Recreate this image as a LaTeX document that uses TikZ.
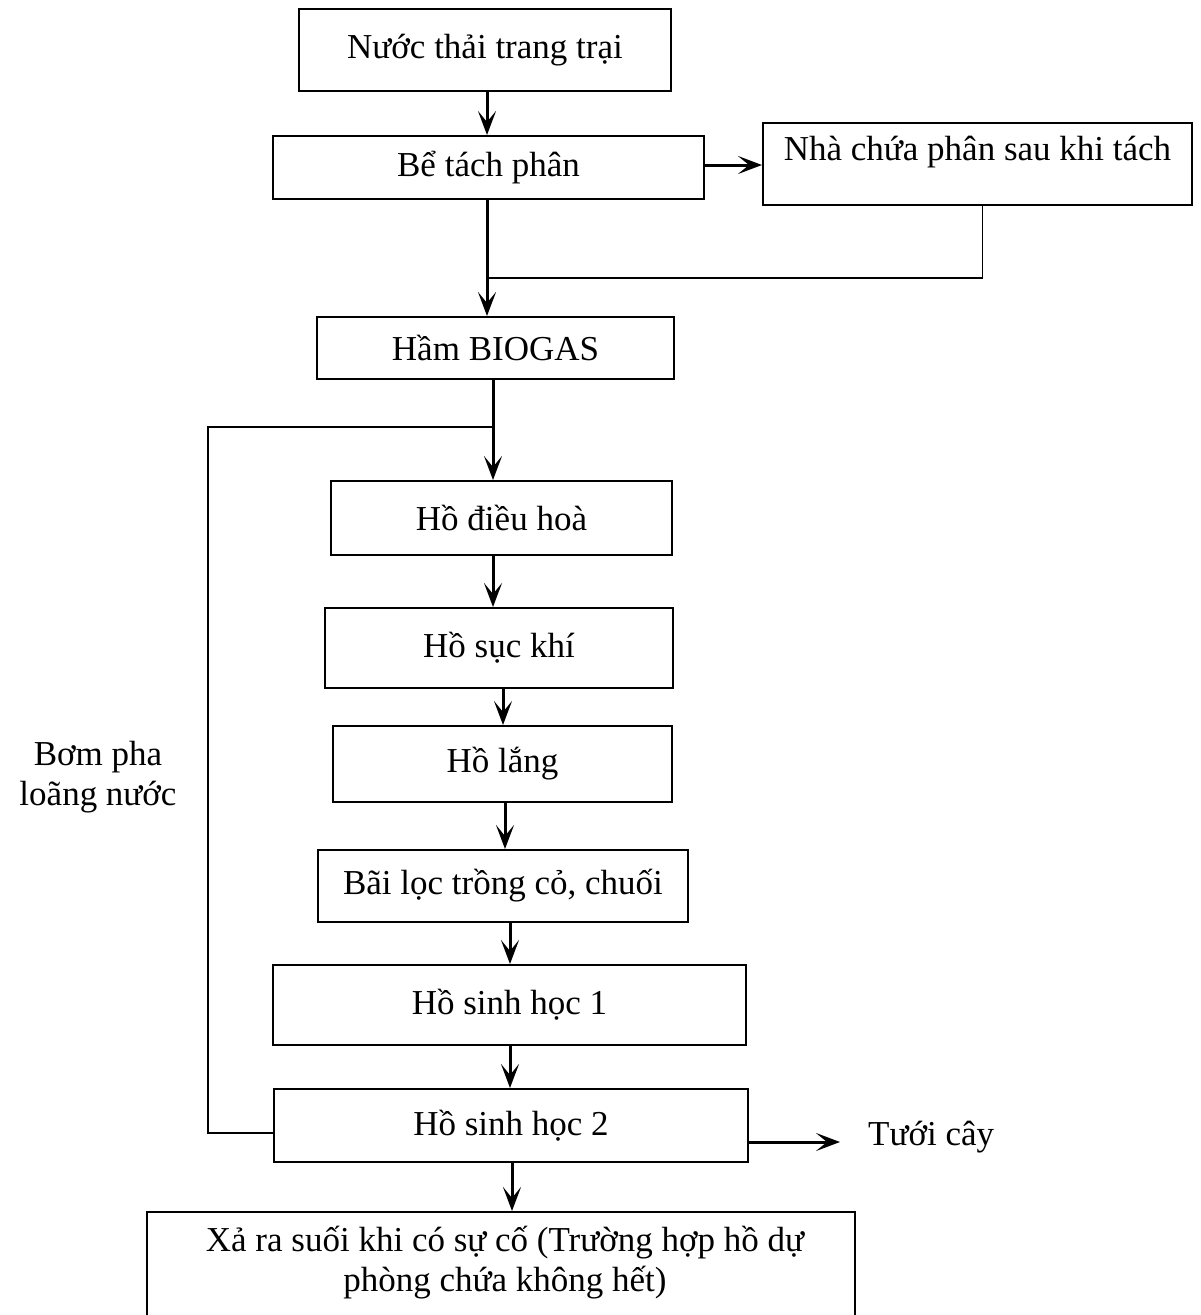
\documentclass[tikz,border=0pt]{standalone}
\usepackage{fontspec}
\setmainfont{Liberation Serif}
\usetikzlibrary{arrows.meta}
\begin{document}
\begin{tikzpicture}[x=1pt,y=-1pt,
  box/.style={draw,line width=2pt,inner sep=0pt,align=center,font=\fontsize{35}{40}\selectfont},
  txt/.style={inner sep=0pt,align=center,font=\fontsize{35}{40}\selectfont},
  arr/.style={line width=3pt,-{Stealth[length=24pt,width=18pt,inset=11pt]}},
  ln/.style={line width=1.8pt}]
\useasboundingbox[fill=white] (0,0) rectangle (1201,1315);
% boxes
\node[box,minimum width=372pt,minimum height=82pt] (nuoc) at (485,50) {Nước thải trang trại};
\node[box,minimum width=431pt,minimum height=63pt] (be) at (488.5,167.5) {Bể tách phân};
\node[box,minimum width=429pt,minimum height=82pt] (nha) at (977.5,164) {};
\node[txt] (nhatext) at (977.5,152) {Nhà chứa phân sau khi tách};
\node[box,minimum width=357pt,minimum height=62pt] (ham) at (495.5,348) {Hầm BIOGAS};
\node[box,minimum width=341pt,minimum height=74pt] (dieuhoa) at (501.5,518) {Hồ điều hoà};
\node[box,minimum width=348pt,minimum height=80pt] (suckhi) at (499,648) {Hồ sục khí};
\node[box,minimum width=339pt,minimum height=76pt] (lang) at (502.5,764) {Hồ lắng};
\node[box,minimum width=370pt,minimum height=72pt] (bailoc) at (503,886) {Bãi lọc trồng cỏ, chuối};
\node[box,minimum width=473pt,minimum height=80pt] (sh1) at (509.5,1005) {Hồ sinh học 1};
\node[box,minimum width=474pt,minimum height=73pt] (sh2) at (511,1125.5) {Hồ sinh học 2};
\node[box,minimum width=708pt,minimum height=112pt] (xa) at (501,1268) {};
\node[txt] (xatext) at (505,1263) {Xả ra suối khi có sự cố (Trường hợp hồ dự\\phòng chứa không hết)};
\node[txt,anchor=west] (tuoi) at (868,1137) {Tưới cây};
\node[txt] (bom) at (98,777) {Bơm pha\\loãng nước};
% helper coordinates
\coordinate (j1) at (487,278);
\coordinate (j2) at (493,427);
\coordinate (fb) at (208,427);
\coordinate (x3) at (493,0);
\coordinate (x4) at (503,0);
\coordinate (x5) at (505,0);
\coordinate (x6) at (510,0);
\coordinate (x7) at (512,0);
\coordinate (t1) at ([yshift=-16.5pt]sh2.east);
% connectors
\draw[arr] (nuoc.south -| j1) -- (be.north -| j1);
\draw[arr] ([yshift=2.5pt]be.east) -- ([yshift=2.5pt]be.east -| nha.west);
\draw[ln] ([xshift=5pt]nha.south) |- (j1);
\draw[arr] (be.south -| j1) -- (ham.north -| j1);
\draw[arr] (ham.south -| j2) -- (dieuhoa.north -| j2);
\draw[ln] ([yshift=-7.5pt]sh2.west) -| (fb) -- (j2);
\draw[arr] (dieuhoa.south -| x3) -- (suckhi.north -| x3);
\draw[arr] (suckhi.south -| x4) -- (lang.north -| x4);
\draw[arr] (lang.south -| x5) -- (bailoc.north -| x5);
\draw[arr] (bailoc.south -| x6) -- (sh1.north -| x6);
\draw[arr] (sh1.south -| x6) -- (sh2.north -| x6);
\draw[arr] (sh2.south -| x7) -- (xa.north -| x7);
\draw[arr] (t1) -- ([xshift=-28pt]t1 -| tuoi.west);
\end{tikzpicture}
\end{document}
